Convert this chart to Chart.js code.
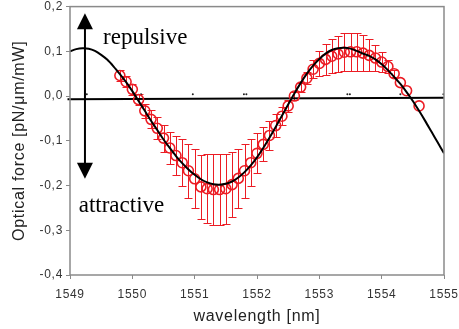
<!DOCTYPE html>
<html>
<head>
<meta charset="utf-8">
<script src="https://cdn.jsdelivr.net/npm/chart.js@4.4.1/dist/chart.umd.min.js"></script>
<style>
  html, body { margin: 0; padding: 0; background: #fff; }
  #wrap { width: 459px; height: 329px; }
</style>
</head>
<body>
<div id="wrap"><canvas id="forceChart" width="459" height="329"></canvas></div>
<script>
// measured optical force (circles) with error bars
const measX = [1549.8, 1549.9, 1550.0, 1550.1, 1550.2, 1550.3, 1550.4, 1550.5, 1550.6, 1550.7,
  1550.8, 1550.9, 1551.0, 1551.1, 1551.2, 1551.3, 1551.4, 1551.5, 1551.6, 1551.7,
  1551.8, 1551.9, 1552.0, 1552.1, 1552.2, 1552.3, 1552.4, 1552.5, 1552.6, 1552.7,
  1552.8, 1552.9, 1553.0, 1553.1, 1553.2, 1553.3, 1553.4, 1553.5, 1553.6, 1553.7,
  1553.8, 1553.9, 1554.0, 1554.1, 1554.2, 1554.3, 1554.4, 1554.6];
const measY = [0.046, 0.032, 0.015, -0.008, -0.033, -0.052, -0.072, -0.094, -0.116, -0.133,
  -0.149, -0.167, -0.185, -0.203, -0.207, -0.209, -0.209, -0.207, -0.198, -0.184,
  -0.167, -0.149, -0.128, -0.108, -0.088, -0.066, -0.045, -0.022, 0.000, 0.020,
  0.040, 0.060, 0.073, 0.082, 0.089, 0.094, 0.098, 0.099, 0.099, 0.096,
  0.091, 0.085, 0.076, 0.066, 0.050, 0.030, 0.012, -0.022];
const measErr = [0.012, 0.012, 0.012, 0.013, 0.016, 0.020, 0.025, 0.030, 0.036, 0.044,
  0.052, 0.060, 0.066, 0.072, 0.077, 0.080, 0.080, 0.078, 0.072, 0.066,
  0.060, 0.052, 0.045, 0.038, 0.032, 0.026, 0.020, 0.013, 0.009, 0.010,
  0.014, 0.020, 0.028, 0.034, 0.038, 0.040, 0.042, 0.043, 0.042, 0.040,
  0.036, 0.030, 0.022, 0.014, 0.008, 0, 0, 0];

// fitted curve (black line)
const fitX = [1549.0, 1549.1, 1549.2, 1549.3, 1549.4, 1549.5, 1549.6, 1549.7, 1549.8, 1549.9,
  1550.0, 1550.1, 1550.2, 1550.3, 1550.4, 1550.5, 1550.6, 1550.7, 1550.8, 1550.9,
  1551.0, 1551.1, 1551.2, 1551.3, 1551.4, 1551.5, 1551.6, 1551.7, 1551.8, 1551.9,
  1552.0, 1552.1, 1552.2, 1552.3, 1552.4, 1552.5, 1552.6, 1552.7, 1552.8, 1552.9,
  1553.0, 1553.1, 1553.2, 1553.3, 1553.4, 1553.5, 1553.6, 1553.7, 1553.8, 1553.9,
  1554.0, 1554.1, 1554.2, 1554.3, 1554.4, 1554.5, 1554.6, 1554.7, 1554.8, 1554.9, 1555.0];
const fitY = [0.100, 0.105, 0.107, 0.106, 0.101, 0.092, 0.081, 0.066, 0.049, 0.031,
  0.011, -0.011, -0.033, -0.055, -0.076, -0.097, -0.116, -0.134, -0.150, -0.164,
  -0.176, -0.186, -0.193, -0.197, -0.198, -0.196, -0.191, -0.182, -0.170, -0.155,
  -0.137, -0.116, -0.093, -0.069, -0.044, -0.019, 0.006, 0.029, 0.050, 0.068,
  0.083, 0.095, 0.103, 0.107, 0.108, 0.106, 0.101, 0.095, 0.090, 0.082,
  0.071, 0.058, 0.043, 0.027, 0.009, -0.011, -0.033, -0.056, -0.080, -0.104, -0.128];

// baseline (drawn slightly below zero in the original) and the stray dots on it
const baseX = [1548.96, 1555.0];
const baseY = [-0.007, -0.004];
const dotX = [1549.27, 1550.14, 1550.97, 1551.79, 1551.83, 1553.45, 1553.49, 1554.30, 1554.99];
const dotY = [0.004, 0.004, 0.004, 0.004, 0.004, 0.004, 0.004, 0.004, 0.004];

// annotation arrow and labels, in data units
const arrowX = 1549.24;
const arrowTop = 0.185;
const arrowBottom = -0.185;
const labelRepulsive = { text: 'repulsive', x: 1549.53, y: 0.116 };
const labelAttractive = { text: 'attractive', x: 1549.14, y: -0.26 };

const RED = 'rgb(236, 28, 36)';
const AXIS = '#8a8a8a';

function pts(xs, ys) {
    return xs.map((x, i) => ({ x: x, y: ys[i] }));
}

const overlay = {
    id: 'overlay',
    beforeDraw(chart) {
        chart.ctx.letterSpacing = '0.7px';
    },
    beforeDatasetsDraw(chart) {
        // error bars under the circles
        const ctx = chart.ctx, xs = chart.scales.x, ys = chart.scales.y;
        ctx.save();
        ctx.strokeStyle = RED;
        ctx.lineWidth = 1;
        measX.forEach((x, i) => {
            const e = measErr[i];
            if (!e) return;
            const px = Math.round(xs.getPixelForValue(x)) + 0.5;
            const top = Math.round(ys.getPixelForValue(measY[i] + e)) + 0.5;
            const bot = Math.round(ys.getPixelForValue(measY[i] - e)) + 0.5;
            ctx.beginPath();
            ctx.moveTo(px, top); ctx.lineTo(px, bot);
            ctx.moveTo(px - 4, top); ctx.lineTo(px + 4, top);
            ctx.moveTo(px - 4, bot); ctx.lineTo(px + 4, bot);
            ctx.stroke();
        });
        ctx.restore();
    },
    afterDatasetsDraw(chart) {
        const ctx = chart.ctx, xs = chart.scales.x, ys = chart.scales.y;
        const area = chart.chartArea;
        ctx.save();
        ctx.letterSpacing = '0px';

        // frame
        ctx.strokeStyle = AXIS;
        ctx.lineWidth = 1.5;
        ctx.strokeRect(area.left, area.top, area.right - area.left, area.bottom - area.top);

        // double arrow
        const ax = xs.getPixelForValue(arrowX);
        const t = ys.getPixelForValue(arrowTop);
        const b = ys.getPixelForValue(arrowBottom);
        ctx.strokeStyle = '#000';
        ctx.fillStyle = '#000';
        ctx.lineWidth = 2;
        ctx.beginPath();
        ctx.moveTo(ax, t + 10);
        ctx.lineTo(ax, b - 10);
        ctx.stroke();
        ctx.beginPath();
        ctx.moveTo(ax, t); ctx.lineTo(ax - 8, t + 16); ctx.lineTo(ax + 8, t + 16); ctx.closePath();
        ctx.fill();
        ctx.beginPath();
        ctx.moveTo(ax, b); ctx.lineTo(ax - 8, b - 16); ctx.lineTo(ax + 8, b - 16); ctx.closePath();
        ctx.fill();

        // labels
        ctx.font = '23px "Liberation Serif", "Times New Roman", serif';
        ctx.textAlign = 'left';
        ctx.textBaseline = 'alphabetic';
        [labelRepulsive, labelAttractive].forEach(l => {
            ctx.fillText(l.text, xs.getPixelForValue(l.x), ys.getPixelForValue(l.y));
        });
        ctx.restore();
    }
};

const ctx = document.getElementById('forceChart').getContext('2d');
new Chart(ctx, {
    type: 'scatter',
    data: {
        datasets: [
            {
                label: 'fit',
                data: pts(fitX, fitY),
                showLine: true,
                borderColor: '#000',
                borderWidth: 2,
                pointRadius: 0,
                tension: 0.3,
                order: 0
            },
            {
                label: 'measured',
                data: pts(measX, measY),
                showLine: false,
                borderColor: RED,
                backgroundColor: 'rgba(0,0,0,0)',
                borderWidth: 1.6,
                pointRadius: 5,
                order: 1
            },
            {
                label: 'zero',
                data: pts(baseX, baseY),
                showLine: true,
                borderColor: '#000',
                borderWidth: 2,
                pointRadius: 0,
                clip: 4,
                order: 2
            },
            {
                label: 'dots',
                data: pts(dotX, dotY),
                showLine: false,
                borderColor: '#222',
                backgroundColor: '#222',
                pointRadius: 1,
                borderWidth: 0,
                order: 3
            }
        ]
    },
    options: {
        responsive: false,
        animation: false,
        layout: { padding: { top: 5, right: 15, left: 0, bottom: 0 } },
        plugins: {
            legend: { display: false },
            tooltip: { enabled: false }
        },
        scales: {
            x: {
                type: 'linear',
                min: 1549,
                max: 1555,
                ticks: {
                    stepSize: 1,
                    padding: 8,
                    color: '#333',
                    font: { family: '"Liberation Sans", Arial, sans-serif', size: 12 },
                    callback: v => String(v)
                },
                grid: { drawOnChartArea: false, drawTicks: true, tickLength: 4, color: AXIS },
                border: { display: false },
                title: {
                    display: true,
                    text: 'wavelength [nm]',
                    color: '#222',
                    font: { family: '"Liberation Sans", Arial, sans-serif', size: 16 },
                    padding: { top: 0, bottom: 3 }
                },
                afterFit(scale) {
                    scale.height = 54;
                    scale.paddingLeft = 0;
                    scale.paddingRight = 0;
                }
            },
            y: {
                min: -0.4,
                max: 0.2,
                ticks: {
                    stepSize: 0.1,
                    padding: 3,
                    color: '#333',
                    font: { family: '"Liberation Sans", Arial, sans-serif', size: 12 },
                    callback: v => (Math.round(v * 10) / 10).toFixed(1).replace('.', ',')
                },
                grid: { drawOnChartArea: false, drawTicks: true, tickLength: 4, color: AXIS },
                border: { display: false },
                title: {
                    display: true,
                    text: 'Optical force [pN/\u03bcm/mW]',
                    color: '#222',
                    font: { family: '"Liberation Sans", Arial, sans-serif', size: 16 },
                    padding: { top: 10, bottom: 0 }
                },
                afterFit(scale) {
                    scale.width = 70;
                    scale.paddingTop = 0;
                    scale.paddingBottom = 0;
                }
            }
        }
    },
    plugins: [overlay]
});
</script>
</body>
</html>
